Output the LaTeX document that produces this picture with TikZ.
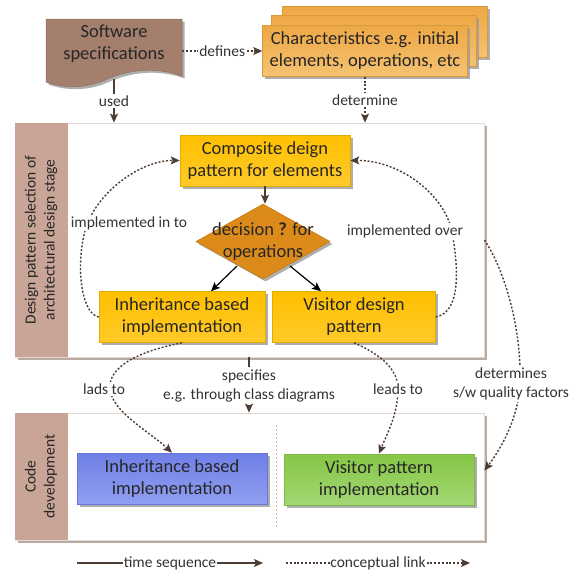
\documentclass[tikz,border=0pt]{standalone}
\usepackage{fontspec}
\setmainfont{Carlito}
\usetikzlibrary{arrows.meta,shapes.geometric,shadows,calc}

\definecolor{ink}{HTML}{262626}
\definecolor{lblink}{HTML}{333333}
\definecolor{arrowc}{HTML}{4E3D34}
\definecolor{specc}{HTML}{A47F6D}
\definecolor{specline}{HTML}{8E6D5D}
\definecolor{bandc}{HTML}{C9A597}
\definecolor{framec}{HTML}{E3D7D1}
\definecolor{shadowbig}{HTML}{B9AAA2}
\definecolor{shadowsm}{HTML}{9A9A9A}
\definecolor{orangeT}{HTML}{EEA845}
\definecolor{orangeB}{HTML}{F5C272}
\definecolor{orangeL}{HTML}{D99A3C}
\definecolor{goldT}{HTML}{FFC000}
\definecolor{goldB}{HTML}{FFCA2A}
\definecolor{goldL}{HTML}{E3AA00}
\definecolor{decc}{HTML}{DC8B1B}
\definecolor{decL}{HTML}{C77A12}
\definecolor{blueT}{HTML}{6F7FE6}
\definecolor{blueB}{HTML}{909FF0}
\definecolor{blueL}{HTML}{6676D6}
\definecolor{greenT}{HTML}{86C646}
\definecolor{greenB}{HTML}{A3D774}
\definecolor{greenL}{HTML}{7DB845}
\definecolor{dividerc}{HTML}{CDB5A8}

\begin{document}
\begin{tikzpicture}[x=1pt,y=-1pt,
  txt/.style={font=\fontsize{18.5}{22}\selectfont, text=ink, align=center},
  lbl/.style={font=\fontsize{15.5}{19}\selectfont, text=lblink, align=center},
  tag/.style={lbl, fill=white, inner sep=1.5pt},
  smallshadow/.style={drop shadow={shadow xshift=2.5pt, shadow yshift=-2.5pt, fill=shadowsm, opacity=0.8}},
  flatbox/.style={rectangle, txt, line width=0.6pt, smallshadow, inner sep=0pt},
  goldbox/.style={flatbox, top color=goldT, bottom color=goldB, draw=goldL},
  orangebox/.style={flatbox, top color=orangeT, bottom color=orangeB, draw=orangeL,
    minimum width=205pt, minimum height=51pt},
  stagebox/.style={rectangle, fill=white, draw=framec, line width=0.8pt,
    minimum width=469pt,
    drop shadow={shadow xshift=3pt, shadow yshift=-3pt, fill=shadowbig, opacity=1}},
  tip/.style={-{Stealth[length=9pt,width=8pt,inset=2pt]}},
  timeline/.style={draw=arrowc, line width=1.2pt, tip},
  conceptline/.style={draw=arrowc, line width=1.4pt, dash pattern=on 2pt off 1.8pt, tip},
  choice/.style={draw=black, line width=1.2pt, tip}]

\useasboundingbox (0,0) rectangle (570,574);

% ---------- stage frames ----------
\node[stagebox, minimum height=234pt] (stage1) at (249.5,240) {};
\fill[bandc] (stage1.north west) rectangle ($(stage1.south west)+(53,0)$);
\node[lbl, text=ink, rotate=90] at ($(stage1.west)+(26.5,0)$)
  {Design pattern selection of\\architectural design stage};

\node[stagebox, minimum height=127pt] (stage2) at (249.5,476.5) {};
\fill[bandc] (stage2.north west) rectangle ($(stage2.south west)+(53,0)$);
\node[lbl, text=ink, rotate=90] at ($(stage2.west)+(26.5,0)$)
  {Code\\development};
\coordinate (divtop) at (276,425);
\coordinate (divbot) at (276,527);
\draw[dividerc, line width=0.7pt, dash pattern=on 2pt off 2pt] (divtop) -- (divbot);

% ---------- software specification document ----------
\fill[specc, draw=specline, line width=0.5pt, smallshadow]
  (46,19) -- (182,19) -- (182,76)
  .. controls (155,66) and (127,70) .. (105,80)
  .. controls (85,89) and (62,88) .. (46,82) -- cycle;
\node[minimum width=136pt, minimum height=60pt, inner sep=0pt] (spec) at (114,49) {};
\node[txt] (specT) at (114,44) {Software\\specifications};

% ---------- characteristics stack ----------
\node[orangebox] (charB2) at (385,32) {};
\node[orangebox] (charB1) at (374,41) {};
\node[orangebox] (char) at (365,51) {Characteristics e.g. initial\\elements, operations, etc};

% ---------- design stage contents ----------
\node[goldbox, minimum width=170pt, minimum height=51pt] (comp) at (265,160.5)
  {Composite deign\\pattern for elements};
\node[diamond, minimum width=134pt, minimum height=75pt, inner sep=0pt,
      fill=decc, draw=decL, line width=0.6pt, smallshadow] (dec) at (263,241.5) {};
\node[txt] (decT) at (dec.center) {decision \textbf{?} for\\operations};
\node[goldbox, minimum width=166pt, minimum height=51pt] (inh) at (182,317)
  {Inheritance based\\implementation};
\node[goldbox, minimum width=163pt, minimum height=51pt] (vis) at (354,317)
  {Visitor design\\pattern};

% ---------- code development contents ----------
\node[flatbox, top color=blueT, bottom color=blueB, draw=blueL,
      minimum width=190pt, minimum height=51pt] (inhimpl) at (172,478.5)
  {Inheritance based\\implementation};
\node[flatbox, top color=greenT, bottom color=greenB, draw=greenL,
      minimum width=190pt, minimum height=51pt] (visimpl) at (379,479.5)
  {Visitor pattern\\implementation};

% ---------- time sequence connectors ----------
\draw[timeline] (spec.south) -- node[tag] {used} (spec.south |- stage1.north);
\draw[timeline] (comp.south) -- (comp.south |- dec.north);
\draw[choice] (237,266) -- (inh.north -| 211,0);
\draw[choice] (290,266) -- (vis.north -| 321,0);

\node[lbl] (spc) at (249,386) {specifies\\e.g. through class diagrams};
\draw[draw=arrowc, line width=1.2pt] (stage1.south -| spc) -- ($(stage1.south -| spc)+(0,10)$);
\draw[timeline] ($(stage2.north -| spc)+(0,-8)$) -- (stage2.north -| spc);

% ---------- conceptual links ----------
\draw[conceptline] (spec.east |- char) -- node[tag] {defines} (char.west);
\draw[conceptline] (char.south) -- node[tag] {determine} (char.south |- stage1.north);

\draw[conceptline] (inh.west) .. controls (82,314) and (76,270) .. (84,235)
  .. controls (92,195) and (140,160) .. (comp.west);
\node[tag] (inTag) at (129,223) {implemented in to};

\draw[conceptline] (vis.east) .. controls (462,312) and (458,265) .. (452,232)
  .. controls (445,195) and (400,160) .. (comp.east);
\node[tag] (overTag) at (405,231) {implemented over};

\draw[conceptline] (inh.south) .. controls (135,352) and (108,368) .. (110,389)
  .. controls (112,412) and (150,432) .. (inhimpl.north);
\node[tag] (ladsTag) at (104,389) {lads to};

\draw[conceptline] (vis.south) .. controls (382,355) and (398,370) .. (398,389)
  .. controls (398,415) and (386,436) .. (visimpl.north);
\node[tag] (leadsTag) at (398,389) {leads to};

\draw[conceptline] (stage1.east) .. controls (500,262) and (522,320) .. (520,384)
  .. controls (518,420) and (500,450) .. ([yshift=6pt]stage2.east);
\node[tag] (detTag) at (511,384) {determines\\s/w quality factors};

% ---------- legend ----------
\coordinate (t1) at (77,563);
\coordinate (t2) at (263,563);
\coordinate (c1) at (286,563);
\coordinate (c2) at (470,563);
\draw[timeline] (t1) -- node[lbl, fill=white, inner sep=0.5pt] {time sequence} (t2);
\draw[conceptline] (c1) -- node[lbl, fill=white, inner sep=0.5pt] {conceptual link} (c2);
\end{tikzpicture}
\end{document}
